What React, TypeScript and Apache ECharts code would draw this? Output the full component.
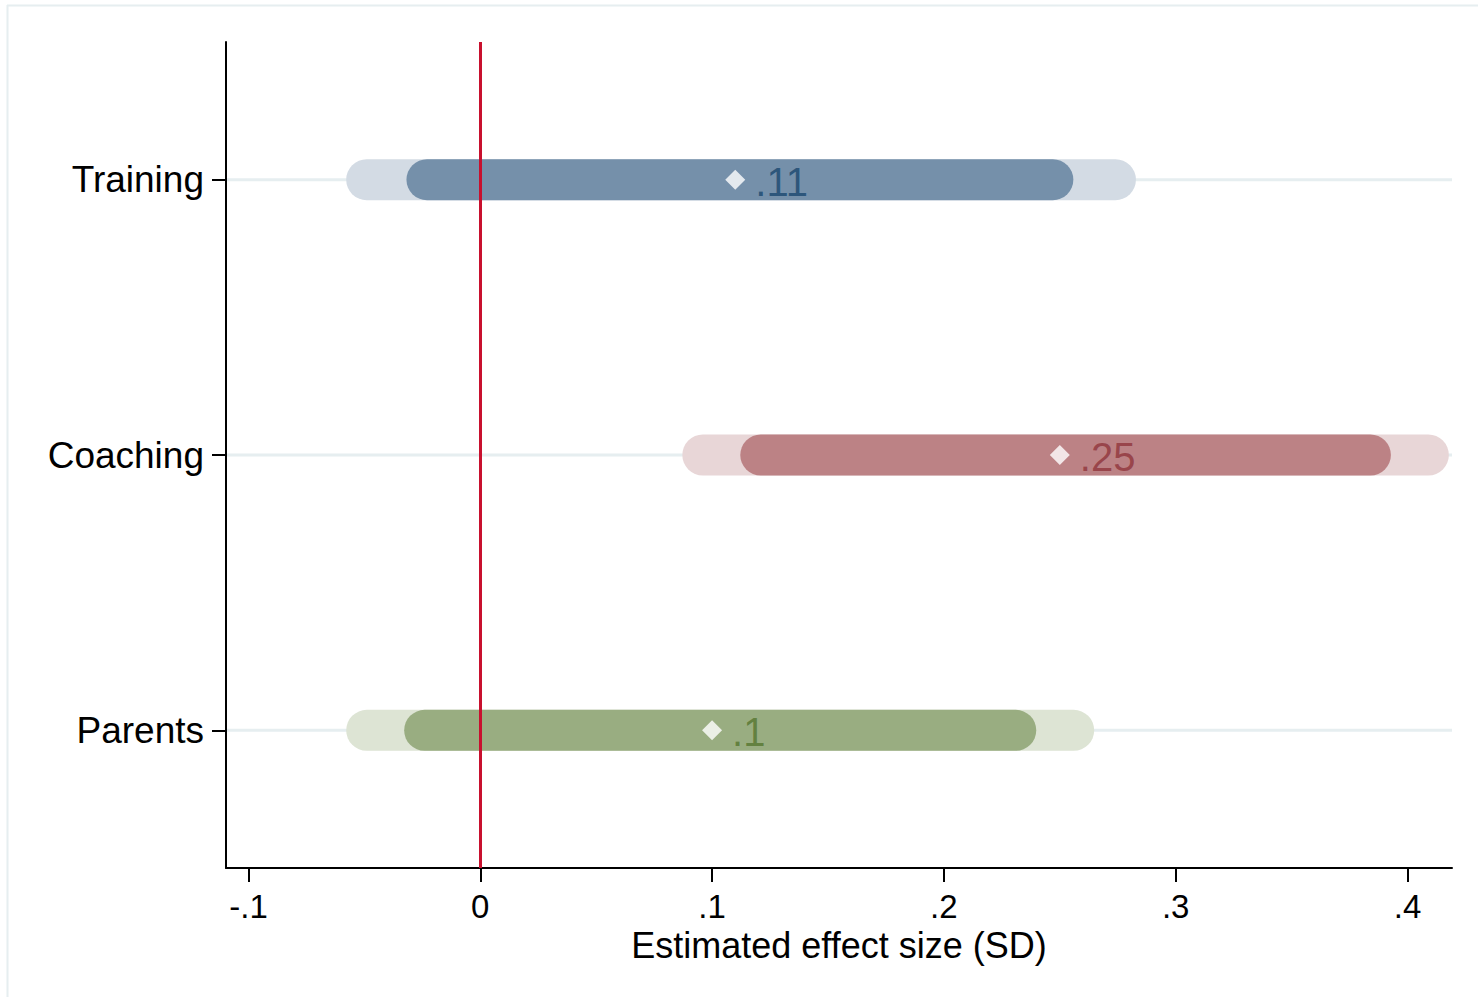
import React, { useEffect, useRef } from "react";
import * as echarts from "echarts";

// Programme arms, top to bottom
const categories = ["Training", "Coaching", "Parents"];
// Point estimates (SD)
const estimates = [0.11, 0.25, 0.1];
// Outer (95%) confidence interval bounds
const ci95Low = [-0.049, 0.096, -0.049];
const ci95High = [0.274, 0.409, 0.256];
// Inner (90%) confidence interval bounds
const ci90Low = [-0.023, 0.121, -0.024];
const ci90High = [0.247, 0.384, 0.231];
// x-axis tick values
const xTicks = [-0.1, 0, 0.1, 0.2, 0.3, 0.4];

const darkColors = ["#7590aa", "#bc8285", "#99ad81"];
const lightColors = ["#d3dbe4", "#e8d6d7", "#dde4d4"];
const labelColors = ["#1a476f", "#90353b", "#55752f"];

const FONT = "'Liberation Sans', Arial, sans-serif";

const fmtTick = (v: number) => {
  if (Math.abs(v) < 1e-9) return "0";
  const s = Math.abs(v).toFixed(1).replace(/^0/, "");
  return (v < 0 ? "-" : "") + s;
};
const fmtValue = (v: number) => String(v).replace(/^0\./, ".").replace(/^-0\./, "-.");

export default function App() {
  const ref = useRef<HTMLDivElement>(null);

  useEffect(() => {
    if (!ref.current) return;
    const chart = echarts.init(ref.current, null, { renderer: "svg" });

    const rowData = categories.map((_, i) => [i]);
    const ciData: any[] = [];
    categories.forEach((_, i) => {
      ciData.push({ value: [i, ci95Low[i], ci95High[i]], itemStyle: { color: lightColors[i] } });
    });
    categories.forEach((_, i) => {
      ciData.push({ value: [i, ci90Low[i], ci90High[i]], itemStyle: { color: darkColors[i] } });
    });

    const option: any = {
      animation: false,
      backgroundColor: "#ffffff",
      textStyle: { fontFamily: FONT },
      grid: { left: 226, top: 42, right: 26, bottom: 129, containLabel: false },
      xAxis: {
        type: "value",
        min: -0.1097,
        max: 0.4192,
        splitLine: { show: false },
        axisLine: { show: true, onZero: false, lineStyle: { color: "#000", width: 2 } },
        axisTick: {
          show: true,
          customValues: xTicks,
          length: 14,
          lineStyle: { color: "#000", width: 2 },
        },
        axisLabel: {
          customValues: xTicks,
          formatter: fmtTick,
          fontSize: 33,
          color: "#000",
          margin: 22,
          fontFamily: FONT,
        },
        name: "Estimated effect size (SD)",
        nameLocation: "middle",
        nameGap: 56,
        nameTextStyle: { fontSize: 36, color: "#000", fontFamily: FONT },
      },
      yAxis: {
        type: "category",
        data: categories,
        inverse: true,
        boundaryGap: true,
        splitLine: { show: false },
        axisLine: { show: true, onZero: false, lineStyle: { color: "#000", width: 2 } },
        axisTick: { show: true, alignWithLabel: true, length: 14, lineStyle: { color: "#000", width: 2 } },
        axisLabel: { fontSize: 37, color: "#000", margin: 22, fontFamily: FONT },
      },
      graphic: [
        {
          type: "line",
          shape: { x1: 7, y1: 5.5, x2: 1478, y2: 5.5 },
          style: { stroke: "#e6eef0", lineWidth: 2 },
          silent: true,
        },
        {
          type: "line",
          shape: { x1: 7.5, y1: 5, x2: 7.5, y2: 997 },
          style: { stroke: "#e6eef0", lineWidth: 2 },
          silent: true,
        },
      ],
      series: [
        {
          // faint row guide lines through each category
          type: "custom",
          name: "rows",
          z: 1,
          data: rowData,
          encode: { y: 0 },
          renderItem: (params: any, api: any) => {
            const cs = params.coordSys;
            const y = api.coord([0, api.value(0)])[1];
            return {
              type: "line",
              shape: { x1: cs.x + 1, y1: y, x2: cs.x + cs.width, y2: y },
              style: { stroke: "#e6eef0", lineWidth: 3 },
            };
          },
          markLine: {
            silent: true,
            symbol: ["none", "none"],
            label: { show: false },
            lineStyle: { color: "#c8102e", width: 3, type: "solid" },
            data: [{ xAxis: 0 }],
          },
        },
        {
          // confidence interval capsules
          type: "custom",
          name: "ci",
          z: 3,
          data: ciData,
          encode: { x: [1, 2], y: 0 },
          renderItem: (params: any, api: any) => {
            const cat = api.value(0);
            const p1 = api.coord([api.value(1), cat]);
            const p2 = api.coord([api.value(2), cat]);
            return {
              type: "line",
              shape: { x1: p1[0], y1: p1[1], x2: p2[0], y2: p2[1] },
              style: { stroke: api.visual("color"), lineWidth: 41, lineCap: "round" },
            };
          },
        },
        {
          type: "scatter",
          name: "estimate",
          z: 5,
          symbol: "diamond",
          symbolSize: [20, 20],
          itemStyle: { color: "#ffffff" },
          data: estimates.map((v, i) => ({
            value: [v, i],
            label: { color: labelColors[i] },
          })),
          label: {
            show: true,
            position: "right",
            distance: 10,
            fontSize: 40,
            fontFamily: FONT,
            offset: [0, 2],
            formatter: (p: any) => fmtValue(p.value[0]),
          },
        },
      ],
    };

    chart.setOption(option);
    return () => chart.dispose();
  }, []);

  return (
    <div
      ref={ref}
      style={{ position: "fixed", left: 0, top: 0, width: 1478, height: 997, background: "#fff" }}
    />
  );
}
